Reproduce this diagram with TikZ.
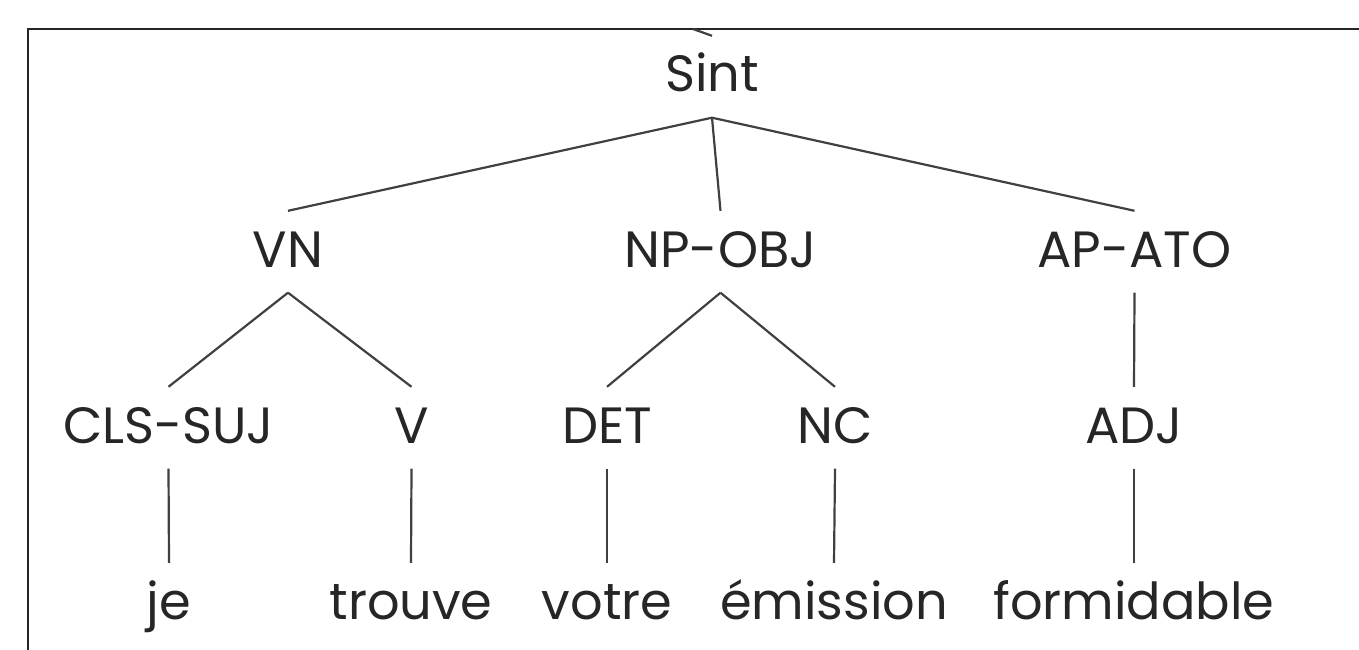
\documentclass[tikz,border=0pt]{standalone}
\usepackage{fontspec}
\setmainfont{Poppins}
\begin{document}
\begin{tikzpicture}[x=1pt,y=-1pt,
  lbl/.style={anchor=base, inner xsep=0pt, inner ysep=21pt, text height=35pt, text depth=4.5pt,
    font=\fontsize{51}{61}\selectfont, text=black!85},
  edge/.style={line width=2.2pt, draw=black!75},
  frame/.style={line width=2.2pt, draw=black!85}]
\useasboundingbox (0,0) rectangle (1359,650);
\draw[frame] (28,650) -- (28,29) -- (1362,29);
% level 1
\node[lbl] (sint) at (712,92) {Sint};
% level 2
\node[lbl] (vn) at (288,267) {VN};
\node[lbl] (np) at (720.5,267) {NP-OBJ};
\node[lbl] (ap) at (1134.5,267) {AP-ATO};
% level 3
\node[lbl] (cls) at (168.5,443) {CLS-SUJ};
\node[lbl] (v) at (411.5,443) {V};
\node[lbl] (det) at (607,443) {DET};
\node[lbl] (nc) at (835,443) {NC};
\node[lbl] (adj) at (1134,443) {ADJ};
% leaves
\node[lbl] (je) at (169,619) {je};
\node[lbl] (trouve) at (411,619) {trouve};
\node[lbl] (votre) at (607,619) {votre};
\node[lbl] (emission) at (834,619) {émission};
\node[lbl] (formidable) at (1134,619) {formidable};
\coordinate (up) at (693,29);
% edges
\draw[edge] (sint.north) -- (up);
\draw[edge] (sint.south) -- (vn.north);
\draw[edge] (sint.south) -- (np.north);
\draw[edge] (sint.south) -- (ap.north);
\draw[edge] (vn.south) -- (cls.north);
\draw[edge] (vn.south) -- (v.north);
\draw[edge] (np.south) -- (det.north);
\draw[edge] (np.south) -- (nc.north);
\draw[edge] (ap.south) -- (adj.north);
\draw[edge] (cls.south) -- (je.north);
\draw[edge] (v.south) -- (trouve.north);
\draw[edge] (det.south) -- (votre.north);
\draw[edge] (nc.south) -- (emission.north);
\draw[edge] (adj.south) -- (formidable.north);
\end{tikzpicture}
\end{document}
